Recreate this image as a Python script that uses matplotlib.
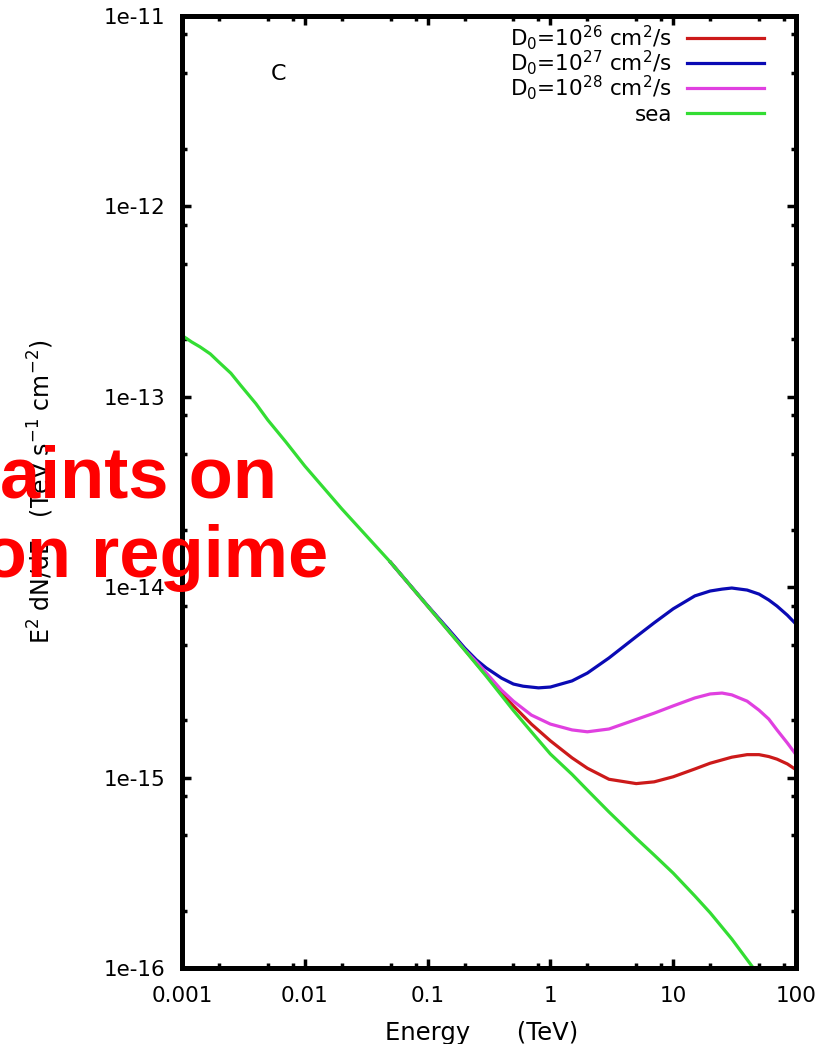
import numpy as np
import matplotlib
matplotlib.use('Agg')
import matplotlib.pyplot as plt
from matplotlib.ticker import LogLocator, NullFormatter, FixedLocator

# spectra as (energy [TeV], E^2 dN/dE [TeV s^-1 cm^-2])
sea_E = [0.001, 0.0012, 0.0014, 0.0017, 0.002, 0.0025, 0.003, 0.004, 0.005,
         0.007, 0.01, 0.02, 0.05, 0.1, 0.15, 0.2, 0.3, 0.5, 0.7, 1, 1.5, 2, 3,
         5, 7, 10, 15, 20, 30, 42, 50]
sea_F = [2.1e-13, 1.94e-13, 1.83e-13, 1.68e-13, 1.52e-13, 1.33e-13, 1.15e-13,
         9.2e-14, 7.55e-14, 5.8e-14, 4.33e-14, 2.58e-14, 1.35e-14, 7.96e-15,
         5.83e-15, 4.68e-15, 3.41e-15, 2.25e-15, 1.74e-15, 1.33e-15, 1.04e-15,
         8.6e-16, 6.6e-16, 4.8e-16, 3.92e-16, 3.15e-16, 2.39e-16, 1.95e-16,
         1.42e-16, 1.06e-16, 9.1e-17]

d26_E = [0.05, 0.1, 0.15, 0.2, 0.3, 0.4, 0.5, 0.7, 1, 1.5, 2, 3, 5, 7, 10,
         15, 20, 30, 40, 50, 60, 70, 85, 100]
d26_F = [1.35e-14, 7.96e-15, 5.85e-15, 4.7e-15, 3.45e-15, 2.78e-15, 2.38e-15,
         1.91e-15, 1.56e-15, 1.27e-15, 1.12e-15, 9.8e-16, 9.3e-16, 9.5e-16,
         1.01e-15, 1.11e-15, 1.19e-15, 1.28e-15, 1.32e-15, 1.32e-15, 1.29e-15,
         1.25e-15, 1.18e-15, 1.1e-15]

d27_E = [0.05, 0.1, 0.15, 0.2, 0.25, 0.3, 0.4, 0.5, 0.6, 0.8, 1, 1.5, 2, 3,
         5, 7, 10, 15, 20, 25, 30, 40, 50, 60, 70, 85, 100]
d27_F = [1.35e-14, 8.0e-15, 5.95e-15, 4.8e-15, 4.15e-15, 3.77e-15, 3.33e-15,
         3.1e-15, 3.02e-15, 2.96e-15, 2.99e-15, 3.22e-15, 3.54e-15, 4.25e-15,
         5.5e-15, 6.5e-15, 7.7e-15, 9.0e-15, 9.55e-15, 9.77e-15, 9.9e-15,
         9.66e-15, 9.2e-15, 8.57e-15, 7.96e-15, 7.13e-15, 6.4e-15]

d28_E = [0.05, 0.1, 0.15, 0.2, 0.25, 0.3, 0.4, 0.5, 0.7, 1, 1.5, 2, 3, 5, 7,
         10, 15, 20, 25, 30, 40, 50, 60, 70, 85, 100]
d28_F = [1.35e-14, 7.96e-15, 5.85e-15, 4.7e-15, 4.05e-15, 3.55e-15, 2.88e-15,
         2.52e-15, 2.13e-15, 1.91e-15, 1.78e-15, 1.74e-15, 1.8e-15, 2.02e-15,
         2.18e-15, 2.38e-15, 2.62e-15, 2.75e-15, 2.78e-15, 2.72e-15, 2.52e-15,
         2.26e-15, 2.03e-15, 1.78e-15, 1.52e-15, 1.32e-15]

labels = [r'D$_0$=10$^{26}$ cm$^2$/s', r'D$_0$=10$^{27}$ cm$^2$/s',
          r'D$_0$=10$^{28}$ cm$^2$/s', 'sea']
colors = ['#cc1a1a', '#0a0ab4', '#e040e0', '#33dd33']

xticks = [0.001, 0.01, 0.1, 1, 10, 100]
xticklabels = ['0.001', '0.01', '0.1', '1', '10', '100']
yticks = [1e-16, 1e-15, 1e-14, 1e-13, 1e-12, 1e-11]
yticklabels = ['1e-16', '1e-15', '1e-14', '1e-13', '1e-12', '1e-11']

W, H = 840, 1044
fig = plt.figure(figsize=(W / 100, H / 100), dpi=100)
ax = fig.add_axes([182 / W, 1 - 968 / H, 614 / W, 952 / H])

lw = 2.3
ax.plot(d26_E, d26_F, color=colors[0], lw=lw)
ax.plot(d27_E, d27_F, color=colors[1], lw=lw)
ax.plot(d28_E, d28_F, color=colors[2], lw=lw)
ax.plot(sea_E, sea_F, color=colors[3], lw=lw)

ax.set_xscale('log')
ax.set_yscale('log')
ax.set_xlim(0.001, 100)
ax.set_ylim(1e-16, 1e-11)

ax.xaxis.set_major_locator(FixedLocator(xticks))
ax.set_xticklabels(xticklabels)
ax.yaxis.set_major_locator(FixedLocator(yticks))
ax.set_yticklabels(yticklabels)
ax.xaxis.set_minor_locator(LogLocator(base=10, subs=[2, 5, 8]))
ax.yaxis.set_minor_locator(LogLocator(base=10, subs=[2, 5, 8]))
ax.xaxis.set_minor_formatter(NullFormatter())
ax.yaxis.set_minor_formatter(NullFormatter())

for s in ax.spines.values():
    s.set_linewidth(3.6)
ax.tick_params(which='both', direction='in', top=True, right=True, width=2.5)
ax.tick_params(which='major', length=6.5, labelsize=15.5)
ax.tick_params(which='minor', length=3.5)
ax.tick_params(axis='y', pad=12)
ax.tick_params(axis='x', pad=13)

# key drawn gnuplot style: text right-justified, sample line to its right
for i, (lab, c) in enumerate(zip(labels, colors)):
    yp = 38 + 25 * i
    ya = 1 - (yp - 16) / 952
    ax.text((672 - 182) / 614, 1 - (yp + 8 - 16) / 952, lab, transform=ax.transAxes,
            ha='right', va='baseline', fontsize=15.5)
    ax.plot([(687 - 182) / 614, (764 - 182) / 614], [ya, ya], color=c, lw=lw,
            transform=ax.transAxes, clip_on=False)

ax.text((278 - 182) / 614, 1 - (74 - 16) / 952, 'C', transform=ax.transAxes,
        ha='center', va='center', fontsize=16)

fig.text(482 / W, 1 - 1040 / H, 'Energy      (TeV)', ha='center', va='baseline',
         fontsize=17.5)
fig.text(41 / W, 1 - 492 / H, r'E$^2$ dN/dE   (TeV s$^{-1}$ cm$^{-2}$)',
         rotation=90, ha='center', va='center', fontsize=17)

# slide heading laid over the plot
fig.text(277 / W, 1 - 498 / H, 'Constraints on', ha='right', va='baseline',
         fontsize=52, fontweight='bold', family='Liberation Sans', color='#ff0000')
fig.text(328 / W, 1 - 577 / H, 'diffusion regime', ha='right', va='baseline',
         fontsize=52, fontweight='bold', family='Liberation Sans', color='#ff0000')

fig.savefig('out.png', dpi=100)
